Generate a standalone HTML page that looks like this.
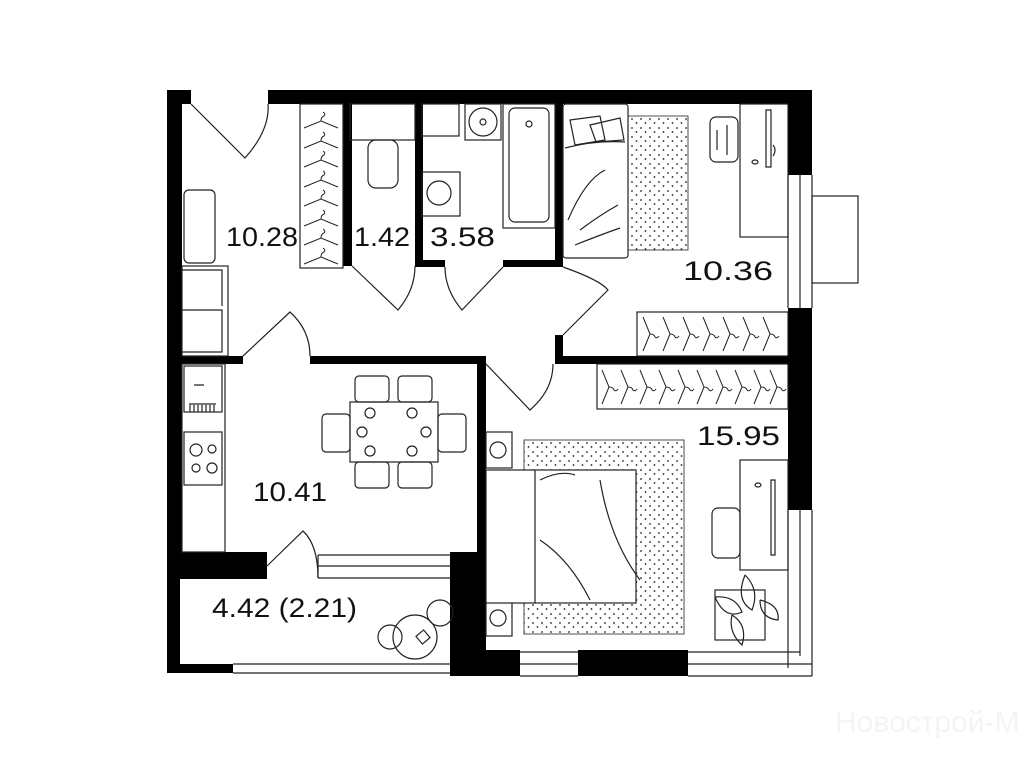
<!DOCTYPE html>
<html><head><meta charset="utf-8"><style>
html,body{margin:0;padding:0;background:#fff;width:1024px;height:768px;overflow:hidden}
svg{display:block}
text{font-family:"Liberation Sans",sans-serif;fill:#111}
</style></head><body>
<svg width="1024" height="768" viewBox="0 0 1024 768" xmlns="http://www.w3.org/2000/svg">
<defs>
<pattern id="dots" width="9" height="9" patternUnits="userSpaceOnUse">
<circle cx="2" cy="2" r="0.9" fill="#222"/><circle cx="6.5" cy="6" r="0.9" fill="#222"/>
</pattern>
<g id="hang"><path d="M-17 6 L0 -1 L17 6 M0 -1 Q0 -5 3 -6 Q5 -8 2 -10" fill="none" stroke="#222" stroke-width="1"/></g>
<g id="hangv"><path d="M-5 -17 L2 0 L-5 17 M2 0 Q6 0 7 3 Q9 5 11 2" fill="none" stroke="#222" stroke-width="1"/></g>
</defs>
<g fill="#000">
<rect x="167" y="90" width="24" height="14"/>
<rect x="167" y="90" width="15" height="462"/>
<rect x="268" y="90" width="544" height="14"/>
<rect x="788" y="90" width="24" height="85"/>
<rect x="788" y="308" width="24" height="202"/>
<rect x="167" y="552" width="100" height="27"/>
<rect x="167" y="579" width="13" height="94"/>
<rect x="167" y="664" width="66" height="9"/>
<rect x="450" y="552" width="36" height="124"/>
<rect x="480" y="650" width="40" height="26"/>
<rect x="578" y="650" width="110" height="26"/>
<rect x="343" y="104" width="9" height="162"/>
<rect x="415" y="104" width="8" height="162"/>
<rect x="415" y="260" width="30" height="7"/>
<rect x="503" y="260" width="60" height="7"/>
<rect x="555" y="104" width="8" height="163"/>
<rect x="555" y="335" width="8" height="28"/>
<rect x="555" y="356" width="233" height="8"/>
<rect x="182" y="356" width="61" height="8"/>
<rect x="310" y="356" width="176" height="8"/>
<rect x="477" y="356" width="9" height="300"/>
</g>
<g fill="none" stroke="#222" stroke-width="1.2">
<path d="M788 175 V308 M800 175 V308 M812 175 V308"/>
<rect x="812" y="196" width="46" height="87"/>
<path d="M788 510 V668 M800 510 V656 M812 510 V676 M688 652 H800 M688 664 H812 M688 676 H812"/>
<path d="M520 652 H578 M520 664 H578 M520 676 H578"/>
<path d="M318 555 H450 M318 566 H450 M318 578 H450 M318 555 V578"/>
<path d="M233 664 H450 M233 673 H450"/>
<path d="M191 104 L245 158 Q270 130 268 104"/>
<path d="M352 266 L398 310 Q415 290 415 266"/>
<path d="M503 267 L462 310 Q445 290 445 267"/>
<path d="M563 267 Q600 280 608 290 L563 335"/>
<path d="M243 356 L290 312 Q310 330 310 356"/>
<path d="M486 364 L530 410 Q553 390 553 364"/>
<path d="M267 566 L303 531 Q318 545 318 578"/>
<rect x="300" y="104" width="43" height="164"/>
<rect x="184" y="190" width="31" height="73" rx="5"/>
<rect x="182" y="266" width="46" height="90"/>
<path d="M182 310 H222 V352 H182 M182 270 H222 V306"/>
<rect x="182" y="364" width="43" height="188"/>
<rect x="184" y="366" width="38" height="46"/>
<rect x="184" y="432" width="38" height="53"/>
<circle cx="196" cy="450" r="6"/><circle cx="212" cy="449" r="4"/><circle cx="196" cy="468" r="4"/><circle cx="212" cy="468" r="5"/>
<path d="M190 405 V412 M194 405 V412 M198 405 V412 M202 405 V412 M206 405 V412 M210 405 V412 M214 405 V412 M189 404 H216 M194 385 H204"/>
<rect x="350" y="104" width="65" height="36"/>
<rect x="368" y="140" width="30" height="48" rx="8"/>
<rect x="422" y="104" width="37" height="32"/>
<rect x="465" y="104" width="36" height="36"/>
<circle cx="483" cy="122" r="14"/><circle cx="483" cy="122" r="3"/>
<rect x="422" y="172" width="38" height="44"/><circle cx="439" cy="193" r="12"/>
<rect x="503" y="104" width="52" height="124"/>
<rect x="509" y="108" width="40" height="114" rx="6"/><circle cx="529" cy="124" r="3"/>
<rect x="563" y="104" width="65" height="154" rx="3"/>
<path d="M565 148 Q595 140 625 142 M570 120 L600 116 L605 140 L575 145 Z M590 125 L620 118 L624 140 L596 142 Z"/>
<path d="M568 220 Q585 180 605 170 M580 230 Q600 215 618 205 M575 245 Q600 235 620 228"/>
<rect x="628" y="116" width="60" height="134" fill="url(#dots)" stroke="#222" stroke-width="0.8"/>
<rect x="740" y="104" width="48" height="133"/>
<path d="M771 110 V167 H766 V110 Z M773 145 Q777 150 773 156"/>
<ellipse cx="755" cy="162" rx="3" ry="2"/>
<rect x="710" y="117" width="28" height="45" rx="6"/>
<path d="M717 130 V150 M727 125 V155"/>
<rect x="637" y="312" width="151" height="44"/>
<rect x="597" y="364" width="191" height="45"/>
<rect x="486" y="432" width="26" height="36"/><circle cx="498" cy="450" r="8"/>
<rect x="486" y="600" width="26" height="36"/><circle cx="498" cy="618" r="8"/>
<rect x="524" y="440" width="160" height="194" fill="url(#dots)" stroke="#222" stroke-width="0.8"/>
<rect x="486" y="470" width="150" height="133" fill="#fff"/>
<path d="M535 470 V603 M600 480 Q610 540 640 580 M540 540 Q570 560 590 600 M540 480 Q560 470 575 475"/>
<rect x="740" y="460" width="48" height="110"/>
<path d="M775 480 V555 H771 V480 Z"/><ellipse cx="758" cy="485" rx="3" ry="2"/>
<rect x="712" y="508" width="28" height="50" rx="6"/>
<rect x="715" y="590" width="50" height="50"/>
<path d="M745 575 Q760 590 752 610 Q735 600 745 575 M715 597 Q735 595 742 612 Q725 620 715 597 M732 615 Q748 625 742 645 Q728 632 732 615 M760 600 Q780 605 778 620 Q760 618 760 600"/>
<rect x="350" y="402" width="88" height="60"/>
<rect x="355" y="376" width="34" height="26" rx="4"/><rect x="398" y="376" width="34" height="26" rx="4"/>
<rect x="355" y="462" width="34" height="26" rx="4"/><rect x="398" y="462" width="34" height="26" rx="4"/>
<rect x="322" y="414" width="28" height="38" rx="4"/><rect x="438" y="414" width="28" height="38" rx="4"/>
<circle cx="362" cy="432" r="5"/><circle cx="426" cy="432" r="5"/>
<circle cx="370" cy="413" r="5"/><circle cx="412" cy="413" r="5"/><circle cx="370" cy="451" r="5"/><circle cx="412" cy="451" r="5"/>
<circle cx="415" cy="637" r="22"/>
<circle cx="440" cy="613" r="13"/><circle cx="390" cy="637" r="12"/>
<rect x="418" y="632" width="10" height="10" transform="rotate(-40 423 637)"/>
</g>
<g>
<use href="#hang" x="321" y="122"/><use href="#hang" x="321" y="142"/><use href="#hang" x="321" y="161"/><use href="#hang" x="321" y="181"/>
<use href="#hang" x="321" y="200"/><use href="#hang" x="321" y="220"/><use href="#hang" x="321" y="239"/><use href="#hang" x="321" y="258"/>
<use href="#hangv" x="648" y="334"/><use href="#hangv" x="668" y="334"/><use href="#hangv" x="688" y="334"/><use href="#hangv" x="708" y="334"/>
<use href="#hangv" x="728" y="334"/><use href="#hangv" x="748" y="334"/><use href="#hangv" x="768" y="334"/>
<use href="#hangv" x="607" y="387"/><use href="#hangv" x="626" y="387"/><use href="#hangv" x="645" y="387"/><use href="#hangv" x="664" y="387"/>
<use href="#hangv" x="683" y="387"/><use href="#hangv" x="702" y="387"/><use href="#hangv" x="721" y="387"/><use href="#hangv" x="740" y="387"/>
<use href="#hangv" x="759" y="387"/><use href="#hangv" x="775" y="387"/>
</g>
<g font-size="27">
<text x="226" y="246" textLength="72" lengthAdjust="spacingAndGlyphs">10.28</text>
<text x="354" y="246" textLength="56" lengthAdjust="spacingAndGlyphs">1.42</text>
<text x="430" y="246" textLength="65" lengthAdjust="spacingAndGlyphs">3.58</text>
<text x="683" y="280" textLength="90" lengthAdjust="spacingAndGlyphs">10.36</text>
<text x="697" y="445" textLength="83" lengthAdjust="spacingAndGlyphs">15.95</text>
<text x="253" y="501" textLength="74" lengthAdjust="spacingAndGlyphs">10.41</text>
<text x="212" y="617" textLength="145" lengthAdjust="spacingAndGlyphs">4.42 (2.21)</text>
</g>
<text x="835" y="732" font-size="30" style="fill:#f4f4f4">Новострой-М</text>
</svg>
</body></html>
